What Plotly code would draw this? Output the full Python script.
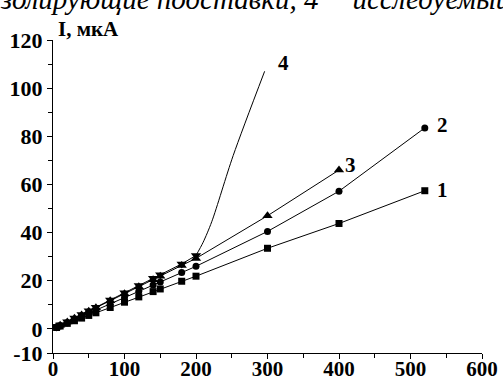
import plotly.graph_objects as go

# Data
u_low = [5, 10, 20, 30, 40, 50, 60, 80, 100, 120, 140, 150, 180, 200]
s1_u = u_low + [300, 400, 520]
s1_i = [0.6, 1.2, 2.3, 3.4, 4.5, 5.6, 6.7, 8.9, 11.1, 13.3, 15.5, 16.6, 19.8, 21.9, 33.5, 43.8, 57.4]
s2_u = u_low + [300, 400, 520]
s2_i = [0.7, 1.3, 2.6, 3.9, 5.2, 6.5, 7.8, 10.4, 13.0, 15.6, 18.2, 19.5, 23.4, 26.0, 40.5, 57.2, 83.5]
s3_u = u_low + [300, 400]
s3_i = [0.8, 1.5, 2.9, 4.4, 5.8, 7.3, 8.8, 11.7, 14.6, 17.5, 20.4, 21.9, 26.3, 29.3, 47.0, 66.0]
s4_u = u_low
s4_i = [0.8, 1.6, 3.0, 4.5, 6.0, 7.5, 9.0, 12.0, 15.0, 18.0, 21.0, 22.5, 27.0, 30.5]
s4_tail_u = [200, 210, 222, 252, 296]
s4_tail_i = [30.5, 36.0, 44.5, 72.0, 107.0]

curve_labels = ["1", "2", "3", "4"]
label_u = [545, 545, 416, 323]
label_i = [57.5, 84.5, 68.0, 110.5]

x_ticks = [0, 100, 200, 300, 400, 500, 600]
y_ticks = [-10, 0, 20, 40, 60, 80, 100, 120]

font_serif = "Liberation Serif, Times New Roman, serif"
line_style = dict(color="black", width=1)

fig = go.Figure()
fig.add_trace(go.Scatter(x=s1_u, y=s1_i, mode="lines+markers", line=line_style,
                         marker=dict(symbol="square", size=7, color="black")))
fig.add_trace(go.Scatter(x=s2_u, y=s2_i, mode="lines+markers", line=line_style,
                         marker=dict(symbol="circle", size=7, color="black")))
fig.add_trace(go.Scatter(x=s3_u, y=s3_i, mode="lines+markers", line=line_style,
                         marker=dict(symbol="triangle-up", size=9, color="black")))
fig.add_trace(go.Scatter(x=s4_u, y=s4_i, mode="lines+markers", line=line_style,
                         marker=dict(symbol="triangle-down", size=9, color="black")))
fig.add_trace(go.Scatter(x=s4_tail_u, y=s4_tail_i, mode="lines",
                         line=dict(color="black", width=1, shape="spline", smoothing=0.8)))

for t, xu, yi in zip(curve_labels, label_u, label_i):
    fig.add_annotation(x=xu, y=yi, text="<b>%s</b>" % t, showarrow=False,
                       font=dict(family=font_serif, size=21, color="black"),
                       xanchor="center", yanchor="middle")

fig.add_annotation(xref="paper", yref="paper", x=0.008, y=0.99, text="<b>I, мкА</b>",
                   showarrow=False, xanchor="left", yanchor="bottom",
                   font=dict(family=font_serif, size=21, color="black"))
fig.add_annotation(x=603, y=-10, text="<b>U, В</b>", showarrow=False,
                   xanchor="right", yanchor="bottom", yshift=2,
                   font=dict(family=font_serif, size=21, color="black"))
fig.add_annotation(xref="paper", yref="paper", x=-0.128, y=1.072,
                   text="<i>золирующие подставки, 4 − исследуемый</i>",
                   showarrow=False, xanchor="left", yanchor="bottom",
                   font=dict(family=font_serif, size=29, color="black"))

fig.update_layout(
    width=503, height=380,
    margin=dict(l=53, r=21, t=40, b=27),
    plot_bgcolor="white", paper_bgcolor="white",
    showlegend=False,
    font=dict(family=font_serif, color="black"),
)
fig.update_xaxes(range=[0, 600], tickvals=x_ticks, ticktext=["<b>%d</b>" % v for v in x_ticks],
                 automargin=False, ticklabelstandoff=-8,
                 showgrid=False, zeroline=False, showline=True, linecolor="black", linewidth=1,
                 ticks="outside", ticklen=5, tickcolor="black",
                 tickfont=dict(family=font_serif, size=21, color="black"),
                 minor=dict(tickvals=[50, 150, 250, 350, 450, 550], ticks="outside", ticklen=4, tickcolor="black"))
fig.update_yaxes(range=[-10, 120], tickvals=y_ticks, ticktext=["<b>%d</b>" % v for v in y_ticks],
                 automargin=False,
                 showgrid=False, zeroline=False, showline=True, linecolor="black", linewidth=1,
                 ticks="outside", ticklen=5, tickcolor="black",
                 tickfont=dict(family=font_serif, size=22, color="black"),
                 minor=dict(tickvals=[10, 30, 50, 70, 90, 110], ticks="outside", ticklen=4, tickcolor="black"))

fig.write_html("out.html", config={"displayModeBar": False},
               post_script="document.body.style.margin='0';")
